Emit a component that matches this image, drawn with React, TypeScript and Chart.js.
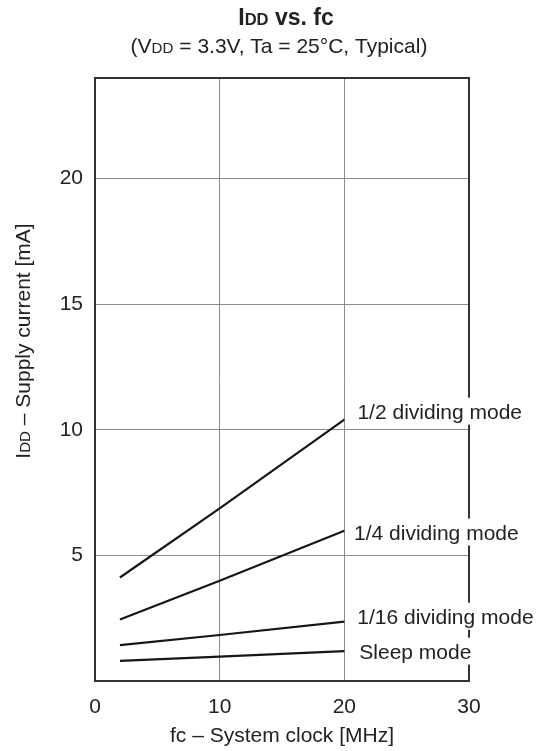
import React, { useEffect, useRef } from "react";
import { Chart, registerables } from "chart.js";

Chart.register(...registerables);

// ---- data ----
const fcPoints = [2, 10, 20];
const halfMode = [4.12, 6.87, 10.4];
const quarterMode = [2.45, 3.99, 5.98];
const sixteenthMode = [1.43, 1.83, 2.36];
const sleepMode = [0.8, 0.97, 1.19];

const seriesNames = ["1/2 dividing mode", "1/4 dividing mode", "1/16 dividing mode", "Sleep mode"];
const labelX = [21.05, 20.78, 21.04, 21.2];
const labelY = [10.72, 5.91, 2.56, 1.17];

const xTicks = [0, 10, 20, 30];
const yTicks = [5, 10, 15, 20];

const FONT = "'Liberation Sans', Arial, Helvetica, sans-serif";
const TEXT = "#222";

type Part = { t: string; small?: boolean };

function drawParts(ctx: CanvasRenderingContext2D, parts: Part[], size: number, bold: boolean, cx: number, baseline: number) {
  const w = (p: Part) => {
    ctx.font = `${bold ? "bold " : ""}${p.small ? size * 0.72 : size}px ${FONT}`;
    return ctx.measureText(p.t).width;
  };
  const widths = parts.map(w);
  const total = widths.reduce((a, b) => a + b, 0);
  let x = cx - total / 2;
  ctx.textAlign = "left";
  ctx.textBaseline = "alphabetic";
  parts.forEach((p, i) => {
    ctx.font = `${bold ? "bold " : ""}${p.small ? size * 0.72 : size}px ${FONT}`;
    ctx.fillText(p.t, x, baseline);
    x += widths[i];
  });
}

const framePlugin = {
  id: "frame",
  beforeDatasetsDraw(chart: any) {
    const { ctx, chartArea: a } = chart;
    ctx.save();
    ctx.strokeStyle = "#333";
    ctx.lineWidth = 2;
    ctx.strokeRect(a.left, a.top, a.right - a.left, a.bottom - a.top);
    ctx.restore();
  },
};

const labelPlugin = {
  id: "seriesLabels",
  afterDatasetsDraw(chart: any) {
    const { ctx } = chart;
    const xs = chart.scales.x;
    const ys = chart.scales.y;
    ctx.save();
    ctx.font = `21px ${FONT}`;
    ctx.textAlign = "left";
    ctx.textBaseline = "alphabetic";
    seriesNames.forEach((name, i) => {
      const x = xs.getPixelForValue(labelX[i]);
      const yc = ys.getPixelForValue(labelY[i]);
      const w = ctx.measureText(name).width;
      ctx.fillStyle = "#fff";
      ctx.fillRect(x - 3, yc - 14, w + 6, 27);
      ctx.fillStyle = TEXT;
      ctx.fillText(name, x, yc + 7.5);
    });
    ctx.restore();
  },
};

const titlePlugin = {
  id: "titles",
  afterDraw(chart: any) {
    const { ctx, chartArea: a } = chart;
    const cx = (a.left + a.right) / 2;
    ctx.save();
    ctx.fillStyle = TEXT;
    drawParts(ctx, [{ t: "I" }, { t: "DD", small: true }, { t: " vs. fc" }], 23, true, cx + 4, 25);
    drawParts(
      ctx,
      [{ t: "(V" }, { t: "DD", small: true }, { t: " = 3.3V, Ta = 25°C, Typical)" }],
      21,
      false,
      cx - 3,
      53
    );
    drawParts(ctx, [{ t: "fc – System clock [MHz]" }], 21, false, cx, 742);
    ctx.translate(30, 341);
    ctx.rotate(-Math.PI / 2);
    drawParts(ctx, [{ t: "I" }, { t: "DD", small: true }, { t: " – Supply current [mA]" }], 21, false, 0, 0);
    ctx.restore();
  },
};

export default function App() {
  const ref = useRef<HTMLCanvasElement | null>(null);
  useEffect(() => {
    if (!ref.current) return;
    const mk = (vals: number[]) => fcPoints.map((x, i) => ({ x, y: vals[i] }));
    const ds = (vals: number[]) => ({
      data: mk(vals),
      borderColor: "#161616",
      borderWidth: 2.2,
      pointRadius: 0,
      tension: 0,
      fill: false,
    });
    const chart = new Chart(ref.current, {
      type: "line",
      data: {
        datasets: [ds(halfMode), ds(quarterMode), ds(sixteenthMode), ds(sleepMode)],
      },
      plugins: [framePlugin, labelPlugin, titlePlugin],
      options: {
        animation: false,
        responsive: false,
        events: [],
        layout: { padding: { top: 78, right: 69, left: 0, bottom: 0 } },
        plugins: { legend: { display: false }, title: { display: false }, tooltip: { enabled: false } },
        scales: {
          x: {
            type: "linear",
            min: 0,
            max: 30,
            afterBuildTicks: (s: any) => {
              s.ticks = xTicks.map((v) => ({ value: v }));
            },
            afterFit: (s: any) => {
              s.height = 70;
            },
            grid: { color: "#8c8c8c", lineWidth: 1, drawTicks: false },
            border: { display: false },
            ticks: { color: TEXT, font: { family: FONT, size: 21 }, padding: 14, maxRotation: 0 },
          },
          y: {
            type: "linear",
            min: 0,
            max: 24,
            afterBuildTicks: (s: any) => {
              s.ticks = yTicks.map((v) => ({ value: v }));
            },
            afterFit: (s: any) => {
              s.width = 95;
            },
            grid: { color: "#8c8c8c", lineWidth: 1, drawTicks: false },
            border: { display: false },
            ticks: { color: TEXT, font: { family: FONT, size: 21 }, padding: 12 },
          },
        },
      } as any,
    });
    return () => chart.destroy();
  }, []);
  return (
    <div style={{ position: "absolute", left: 0, top: 0, width: 538, height: 751, background: "#fff" }}>
      <canvas ref={ref} width={538} height={751} style={{ width: 538, height: 751, display: "block" }} />
    </div>
  );
}
